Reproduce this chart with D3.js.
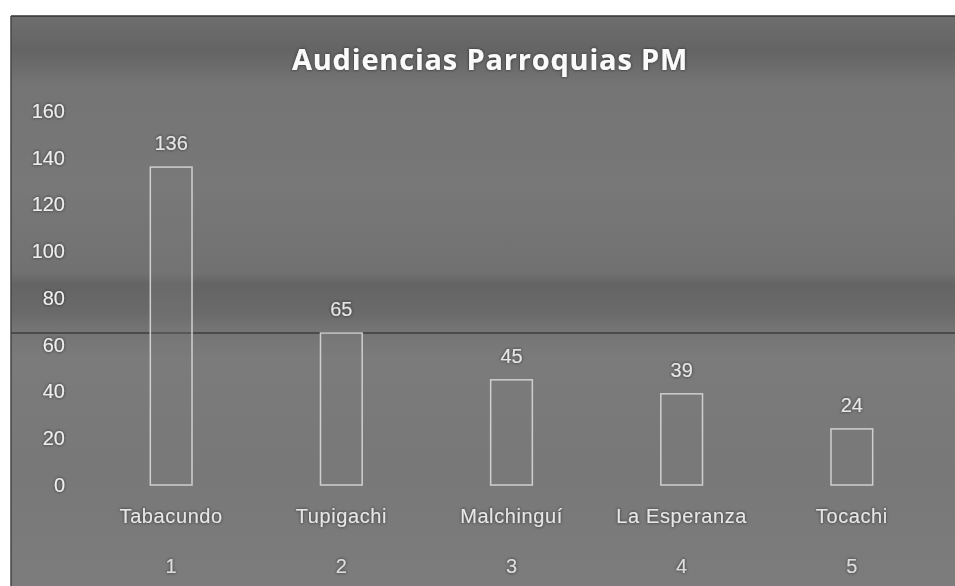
<!DOCTYPE html>
<html>
<head>
<meta charset="utf-8">
<script src="https://cdn.jsdelivr.net/npm/d3@7"></script>
<style>
  body { margin: 0; background: #fff; }
  text { font-family: "Liberation Sans", "Open Sans", sans-serif; }
</style>
</head>
<body>
<svg id="chart"></svg>
<script>
      var parroquias = ["Tabacundo", "Tupigachi", "Malchinguí", "La Esperanza", "Tocachi"];
      var numeros    = ["1", "2", "3", "4", "5"];
      var audiencias = [136, 65, 45, 39, 24];
      var yTicks     = [0, 20, 40, 60, 80, 100, 120, 140, 160];
      var title      = "Audiencias Parroquias PM";

      var svgWidth  = 955;
      var svgHeight = 586;
      var panel  = {x: 11, y: 16};
      var margin = {top: 111, bottom: 101, left: 86, right: 18};
      var graphHeight = svgHeight - margin.top - margin.bottom;

      var bar = d3.select("#chart").attr("width", svgWidth).attr("height", svgHeight);

      // scanned grey background, darker bands
      var defs = bar.append("defs");
      var grad = defs.append("linearGradient").attr("id", "bg")
        .attr("x1", 0).attr("y1", 0).attr("x2", 0).attr("y2", 1);
      [[0, "#6e6e6e"], [0.06, "#646464"], [0.12, "#747474"], [0.3, "#787878"],
       [0.45, "#717171"], [0.47, "#646464"], [0.52, "#6a6a6a"], [0.55, "#747474"],
       [0.6, "#7b7b7b"], [0.8, "#787878"], [1, "#7c7c7c"]].forEach(function(s) {
        grad.append("stop").attr("offset", s[0]).attr("stop-color", s[1]);
      });
      var glow = defs.append("filter").attr("id", "halo")
        .attr("x", "-10%").attr("y", "-30%").attr("width", "120%").attr("height", "160%");
      glow.append("feDropShadow").attr("dx", 0).attr("dy", 0).attr("stdDeviation", 1.6)
        .attr("flood-color", "#222").attr("flood-opacity", 0.9);

      bar.append("rect").attr("x", panel.x).attr("y", panel.y)
         .attr("width", svgWidth - panel.x).attr("height", svgHeight - panel.y)
         .style("fill", "url(#bg)");
      bar.append("line").attr("x1", panel.x).attr("y1", panel.y).attr("x2", svgWidth).attr("y2", panel.y)
         .style("stroke", "#333").style("stroke-width", 1.5);
      bar.append("line").attr("x1", panel.x).attr("y1", panel.y).attr("x2", panel.x).attr("y2", svgHeight)
         .style("stroke", "#444").style("stroke-width", 1.5);
      bar.append("line").attr("x1", panel.x).attr("y1", 333).attr("x2", svgWidth).attr("y2", 333)
         .style("stroke", "#3a3a3a").style("stroke-width", 2).style("opacity", 0.7);

      var xScale = d3.scaleBand().domain(parroquias)
        .range([margin.left, svgWidth - margin.right]).paddingInner(0.755).paddingOuter(0.378);
      var yScale = d3.scaleLinear().domain([0, 160])
        .range([margin.top + graphHeight, margin.top]);

      // title
      bar.append("text").attr("x", 490).attr("y", 70).text(title)
         .attr("filter", "url(#halo)")
         .style("font-family", "'Open Sans', sans-serif")
         .style("font-size", "29px").style("font-weight", "bold").style("fill", "#fafafa")
         .style("letter-spacing", "0.8px")
         .style("text-anchor", "middle");

      // y axis labels
      var yAxis = bar.append("g")
        .attr("transform", "translate(" + 65 + ",0)")
        .call(d3.axisLeft(yScale).tickValues(yTicks).tickSize(0).tickPadding(0));
      yAxis.select(".domain").remove();
      yAxis.selectAll("text").style("font-size", "20px").style("fill", "#eeeeee")
        .style("font-family", "'Liberation Sans', sans-serif").attr("filter", "url(#halo)");

      // bars
      bar.selectAll(".bar").data(audiencias).enter().append("rect")
         .attr("x", function(d, i) { return xScale(parroquias[i]); })
         .attr("y", function(d) { return yScale(d); })
         .attr("width", xScale.bandwidth())
         .attr("height", function(d) { return yScale(0) - yScale(d); })
         .style("fill", "#7a7a7a").style("fill-opacity", 0.25)
         .style("stroke", "#cfcfcf").style("stroke-width", 1.5);

      // value labels
      bar.selectAll(".val").data(audiencias).enter().append("text")
         .attr("x", function(d, i) { return xScale(parroquias[i]) + xScale.bandwidth()/2; })
         .attr("y", function(d) { return yScale(d) - 17; })
         .text(function(d) { return d; })
         .attr("filter", "url(#halo)")
         .style("font-size", "20px").style("fill", "#e6e6e6").style("text-anchor", "middle");

      // category axis, two levels
      var xAxis = bar.append("g")
        .attr("transform", "translate(0," + 523 + ")")
        .call(d3.axisBottom(xScale).tickSize(0).tickPadding(0));
      xAxis.select(".domain").remove();
      xAxis.selectAll("text").attr("dy", 0).style("font-size", "20px").style("fill", "#e6e6e6")
        .style("letter-spacing", "0.6px")
        .style("font-family", "'Liberation Sans', sans-serif").attr("filter", "url(#halo)");

      bar.selectAll(".num").data(numeros).enter().append("text")
         .attr("x", function(d, i) { return xScale(parroquias[i]) + xScale.bandwidth()/2; })
         .attr("y", 573)
         .text(function(d) { return d; })
         .attr("filter", "url(#halo)")
         .style("font-size", "20px").style("fill", "#dddddd").style("text-anchor", "middle");
</script>
</body>
</html>
